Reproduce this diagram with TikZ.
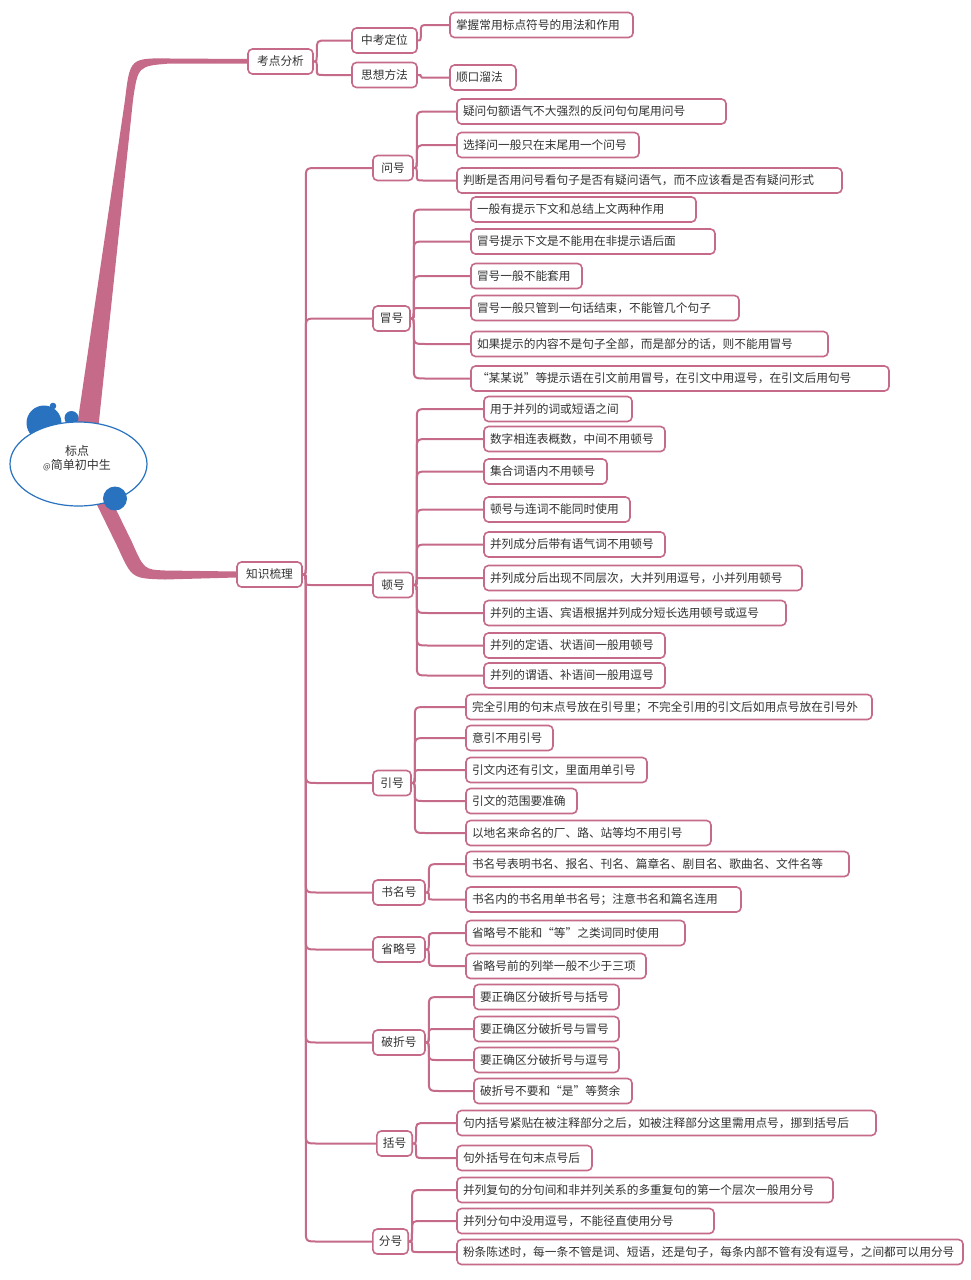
\documentclass[tikz,border=0pt]{standalone}
\usepackage{fontspec}
\setmainfont{Noto Sans CJK SC}
\usetikzlibrary{calc,shapes.geometric}
\definecolor{pk}{RGB}{198,106,138}
\definecolor{bl}{RGB}{40,114,192}
\definecolor{tx}{RGB}{50,50,50}
\pgfdeclarelayer{back}
\pgfdeclarelayer{bg}
\pgfsetlayers{back,bg,main}
\tikzset{
  box/.style={draw=pk, line width=1.6pt, fill=white, rounded corners=4.5pt, inner xsep=6pt, inner ysep=0pt, minimum height=25pt, text=tx, font=\fontsize{11.7}{14}\selectfont},
  conn/.style={draw=pk, line width=2pt},
  blob/.style={fill=bl},
}
\newcommand\leaf[5]{\pgfmathsetmacro\tw{#3-#2-12}\node[box, text width=\tw pt, align=left] (#1) at ({(#2+#3)/2},#4) {#5};}
\newcommand\hub[5]{\pgfmathsetmacro\tw{#3-#2}\node[box, minimum width=\tw pt, align=center] (#1) at ({(#2+#3)/2},#4) {#5};}
\newcommand\link[2]{\draw[conn] let \p1=(#1.east), \p2=(#2.west), \n1={\y2-\y1}, \n2={min(12,abs(\n1)/2)}, \n3={sign(\n1)} in
  (\p1) .. controls ({\x1+3pt},\y1) .. ({\x1+3pt},{\y1+\n3*\n2*1pt}) -- ({\x1+3pt},{\y2-\n3*\n2*1pt}) .. controls ({\x1+3pt},\y2) .. ({\x1+3pt+\n2*1pt},\y2) -- (\p2);}
\begin{document}
\begin{tikzpicture}[x=1pt,y=-1pt]
\useasboundingbox (0,0) rectangle (971,1280);
\begin{pgfonlayer}{back}
\fill[white] (0,0) rectangle (971,1280);
\end{pgfonlayer}
% root
\fill[blob] (44,423) circle[radius=17.5];
\fill[blob] (53,406) circle[radius=3.3];
\fill[blob] (71.5,418) circle[radius=7];
\node[ellipse, draw=bl, line width=1.2pt, fill=white, minimum width=137pt, minimum height=84pt, inner sep=0pt] (r) at (78.5,464) {};
\fill[blob] (115,498.5) circle[radius=12];
\node[text=tx, font=\fontsize{12}{14}\selectfont, align=center] (rt) at (77,458.5) {标点\\{\fontsize{8}{10}\selectfont @}简单初中生};
% level 1
\hub{a}{248}{313}{61.5}{考点分析}
\hub{b}{237}{302}{574.5}{知识梳理}
% level 2
\hub{a1}{352}{417}{40.5}{中考定位}
\hub{a2}{352}{417}{75}{思想方法}
\leaf{a1x}{450}{633}{25}{掌握常用标点符号的用法和作用}
\leaf{a2x}{450}{516}{77.5}{顺口溜法}
\hub{b1}{373}{413}{168}{问号}
\hub{b2}{373}{410}{318.5}{冒号}
\hub{b3}{373}{413}{585}{顿号}
\hub{b4}{373}{411}{783}{引号}
\hub{b5}{373}{425}{892.5}{书名号}
\hub{b6}{373}{425}{949.5}{省略号}
\hub{b7}{373}{425}{1042.5}{破折号}
\hub{b8}{377}{412}{1143.5}{括号}
\hub{b9}{373}{408}{1241.5}{分号}
% leaves
\leaf{b1a}{457}{726}{111.5}{疑问句额语气不大强烈的反问句句尾用问号}
\leaf{b1b}{457}{639}{145}{选择问一般只在末尾用一个问号}
\leaf{b1c}{457}{842}{180.5}{判断是否用问号看句子是否有疑问语气，而不应该看是否有疑问形式}
\leaf{b2a}{471}{696}{209.5}{一般有提示下文和总结上文两种作用}
\leaf{b2b}{471}{715}{241.5}{冒号提示下文是不能用在非提示语后面}
\leaf{b2c}{471}{582}{276}{冒号一般不能套用}
\leaf{b2d}{471}{739}{308}{冒号一般只管到一句话结束，不能管几个句子}
\leaf{b2e}{471}{828}{344}{如果提示的内容不是句子全部，而是部分的话，则不能用冒号}
\leaf{b2f}{471}{889}{378.5}{“某某说”等提示语在引文前用冒号，在引文中用逗号，在引文后用句号}
\leaf{b3a}{484}{632}{409}{用于并列的词或短语之间}
\leaf{b3b}{484}{665}{439}{数字相连表概数，中间不用顿号}
\leaf{b3c}{484}{607}{471.5}{集合词语内不用顿号}
\leaf{b3d}{484}{630}{509.5}{顿号与连词不能同时使用}
\leaf{b3e}{484}{665}{544.5}{并列成分后带有语气词不用顿号}
\leaf{b3f}{484}{802}{578}{并列成分后出现不同层次，大并列用逗号，小并列用顿号}
\leaf{b3g}{484}{786}{613}{并列的主语、宾语根据并列成分短长选用顿号或逗号}
\leaf{b3h}{484}{665}{645.5}{并列的定语、状语间一般用顿号}
\leaf{b3i}{484}{665}{675.5}{并列的谓语、补语间一般用逗号}
\leaf{b4a}{466}{872}{707}{完全引用的句末点号放在引号里；不完全引用的引文后如用点号放在引号外}
\leaf{b4b}{466}{553}{738}{意引不用引号}
\leaf{b4c}{466}{647}{770}{引文内还有引文，里面用单引号}
\leaf{b4d}{466}{577}{801}{引文的范围要准确}
\leaf{b4e}{466}{711}{833}{以地名来命名的厂、路、站等均不用引号}
\leaf{b5a}{466}{849}{864}{书名号表明书名、报名、刊名、篇章名、剧目名、歌曲名、文件名等}
\leaf{b5b}{466}{741}{899.5}{书名内的书名用单书名号；注意书名和篇名连用}
\leaf{b6a}{466}{685}{933}{省略号不能和“等”之类词同时使用}
\leaf{b6b}{466}{646}{966}{省略号前的列举一般不少于三项}
\leaf{b7a}{474}{619}{997}{要正确区分破折号与括号}
\leaf{b7b}{474}{619}{1029}{要正确区分破折号与冒号}
\leaf{b7c}{474}{619}{1060}{要正确区分破折号与逗号}
\leaf{b7d}{474}{632}{1091}{破折号不要和“是”等赘余}
\leaf{b8a}{457}{876}{1123}{句内括号紧贴在被注释部分之后，如被注释部分这里需用点号，挪到括号后}
\leaf{b8b}{457}{592}{1158}{句外括号在句末点号后}
\leaf{b9a}{457}{833}{1190}{并列复句的分句间和非并列关系的多重复句的第一个层次一般用分号}
\leaf{b9b}{457}{714}{1221}{并列分句中没用逗号，不能径直使用分号}
\leaf{b9c}{457}{963}{1252}{粉条陈述时，每一条不管是词、短语，还是句子，每条内部不管有没有逗号，之间都可以用分号}
% connectors
\begin{pgfonlayer}{bg}
\fill[pk] (75,440) -- (125,100) .. controls (130,58) .. (170,58.5) -- ($(a.west)+(0,-2.5)$) -- ($(a.west)+(0,2)$) -- (170,63.5) .. controls (138,66) .. (133,100) -- (97,440) -- cycle;
\fill[pk] (109.75,496.7) -- (131.75,541.7) .. controls (144,569.5) .. (165,570.5) -- ($(b.west)+(0,-3)$) -- ($(b.west)+(0,3)$) -- (165,579.5) .. controls (132,578.5) .. (118.25,548.3) -- (96.25,503.3) -- cycle;
\link{a}{a1}\link{a}{a2}\link{a1}{a1x}\link{a2}{a2x}
\foreach \c in {b1,b2,b3,b4,b5,b6,b7,b8,b9}{\link{b}{\c}}
\foreach \c in {a,b,c}{\link{b1}{b1\c}}
\foreach \c in {a,b,c,d,e,f}{\link{b2}{b2\c}}
\foreach \c in {a,b,c,d,e,f,g,h,i}{\link{b3}{b3\c}}
\foreach \c in {a,b,c,d,e}{\link{b4}{b4\c}}
\foreach \c in {a,b}{\link{b5}{b5\c}}
\foreach \c in {a,b}{\link{b6}{b6\c}}
\foreach \c in {a,b,c,d}{\link{b7}{b7\c}}
\foreach \c in {a,b}{\link{b8}{b8\c}}
\foreach \c in {a,b,c}{\link{b9}{b9\c}}
\end{pgfonlayer}
\end{tikzpicture}
\end{document}
